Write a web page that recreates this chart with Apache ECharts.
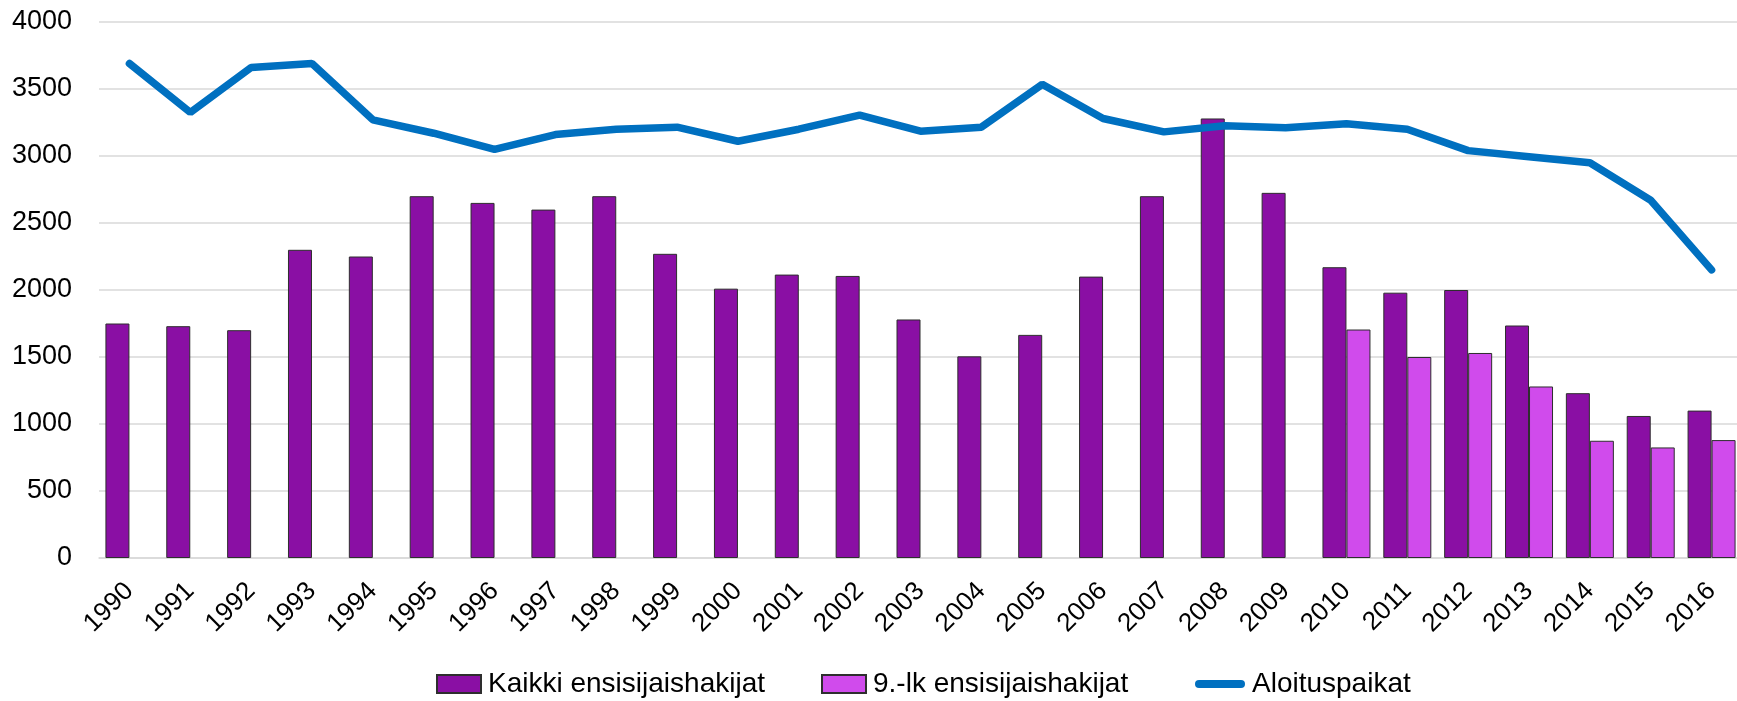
<!DOCTYPE html>
<html>
<head>
<meta charset="utf-8">
<script src="https://cdn.jsdelivr.net/npm/echarts@6/dist/echarts.min.js"></script>
<style>
  html, body { margin: 0; padding: 0; background: #fff; }
  #chart { width: 1737px; height: 701px; }
</style>
</head>
<body>
<div id="chart"></div>
<script>
// vuodet
const years = ['1990','1991','1992','1993','1994','1995','1996','1997','1998','1999',
  '2000','2001','2002','2003','2004','2005','2006','2007','2008','2009',
  '2010','2011','2012','2013','2014','2015','2016'];
// Kaikki ensisijaishakijat
const kaikki = [1750, 1730, 1700, 2300, 2250, 2700, 2650, 2600, 2700, 2270,
  2010, 2115, 2105, 1780, 1505, 1665, 2100, 2700, 3280, 2725,
  2170, 1980, 2000, 1735, 1230, 1060, 1100];
// 9.-lk ensisijaishakijat (vain 2010 alkaen)
const ysi = [null, null, null, null, null, null, null, null, null, null,
  null, null, null, null, null, null, null, null, null, null,
  1705, 1500, 1530, 1280, 875, 825, 880];
// Aloituspaikat
const paikat = [3690, 3325, 3660, 3690, 3270, 3170, 3050, 3160, 3200, 3215,
  3110, 3200, 3305, 3185, 3215, 3535, 3280, 3180, 3225, 3210,
  3240, 3200, 3040, 2995, 2950, 2670, 2150];

let myChart = echarts.init(document.getElementById('chart'));
const font = 'Liberation Sans, Arial, sans-serif';
const legendText = { color: '#000', fontSize: 28, fontFamily: font, padding: [0, 0, 0, 2] };

myChart.setOption({
  animation: false,
  textStyle: { fontFamily: font },
  grid: {
    left: 99, right: -5, top: 22, bottom: 143,
    outerBoundsMode: 'none'
  },
  legend: [
    {
      left: 431,
      top: 665,
      itemWidth: 44,
      itemHeight: 18,
      itemGap: 56,
      textStyle: legendText,
      data: [
        { name: 'Kaikki ensisijaishakijat', icon: 'rect' },
        { name: '9.-lk ensisijaishakijat', icon: 'rect' }
      ]
    },
    {
      left: 1190,
      top: 665,
      itemWidth: 50,
      itemHeight: 18,
      textStyle: legendText,
      data: [
        { name: 'Aloituspaikat', icon: 'path://M4,0 H46 A4,4 0 0 1 46,8 H4 A4,4 0 0 1 4,0 Z' }
      ]
    }
  ],
  xAxis: {
    type: 'category',
    data: years,
    axisLine: { lineStyle: { color: '#D9D9D9', width: 1.5 } },
    axisTick: { show: false },
    axisLabel: { rotate: 45, color: '#000', fontSize: 26, margin: 29, interval: 0 }
  },
  yAxis: {
    type: 'value',
    min: 0, max: 4000, interval: 500,
    axisLine: { show: false },
    axisTick: { show: false },
    axisLabel: { color: '#000', fontSize: 27, margin: 27, formatter: (v) => String(v) },
    splitLine: { lineStyle: { color: '#D9D9D9', width: 1.5 } }
  },
  series: [
    {
      name: 'Kaikki ensisijaishakijat',
      type: 'bar',
      data: kaikki,
      barWidth: 24,
      barGap: '0%',
      itemStyle: { color: '#8A0FA4', borderColor: '#2E2E2E', borderWidth: 1 }
    },
    {
      name: '9.-lk ensisijaishakijat',
      type: 'bar',
      data: ysi,
      barWidth: 24,
      barGap: '0%',
      itemStyle: { color: '#D04BEC', borderColor: '#2E2E2E', borderWidth: 1 }
    },
    {
      name: 'Aloituspaikat',
      type: 'line',
      data: paikat,
      symbol: 'none',
      z: 5,
      lineStyle: { color: '#0070C0', width: 7.5, cap: 'round' },
      itemStyle: { color: '#0070C0' }
    }
  ]
});
window.onresize = myChart.resize;
</script>
</body>
</html>
